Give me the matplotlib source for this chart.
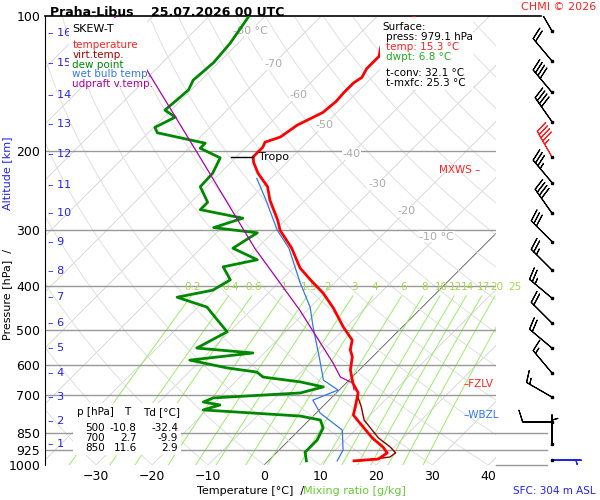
import numpy as np
import matplotlib
matplotlib.use("Agg")
import matplotlib.pyplot as plt
from matplotlib.patches import Rectangle

# profiles (p in hPa, T in deg C)
temp_p = [979, 970, 940, 912, 871, 794, 774, 743, 691, 657, 614, 574, 554, 527, 493, 447, 414, 387, 364,
          329, 300, 285, 257, 240, 224, 212, 206, 196, 191, 186, 175, 164, 155, 148, 141, 137, 131, 123, 117, 109, 100]
temp_t = [15.3, 19.3, 19.8, 18.0, 14.5, 8.6, 7.0, 5.9, 3.9, 1.2, -1.6, -3.6, -5.2, -6.6, -10.5, -15.7, -20.2, -24.8, -28.8,
          -33.8, -39.1, -41.3, -46.3, -49.1, -53.2, -55.9, -57.0, -57.0, -57.5, -55.7, -54.8, -52.5, -52.1, -52.3, -52.3,
          -51.8, -52.5, -52.5, -53.9, -53.4, -53.4]
virt_p = [979, 960, 940, 912, 871, 794, 743, 700]
virt_t = [16.3, 21.0, 21.3, 19.3, 15.6, 9.8, 7.0, 4.2]
dwpt_p = [979, 936, 880, 827, 794, 778, 754, 735, 724, 709, 691, 670, 653, 637, 621, 608, 584, 563, 549, 505, 475,
          445, 423, 408, 387, 362, 349, 329, 304, 296, 282, 270, 260, 240, 224, 207, 197, 192, 182, 177, 168, 162, 152,
          146, 139, 127, 115, 100]
dwpt_t = [6.8, 5.0, 5.0, 3.9, 2.0, -2.3, -20.7, -18.6, -22.1, -21.1, -6.4, -3.4, -8.4, -15.9, -17.9, -23.9, -32.0,
          -22.0, -32.9, -30.4, -34.3, -38.4, -45.5, -40.4, -39.1, -42.7, -37.9, -44.3, -42.7, -51.4, -47.9, -57.0, -57.0,
          -61.1, -61.3, -62.7, -68.0, -68.0, -78.4, -79.8, -78.0, -81.1, -80.7, -80.5, -81.4, -80.9, -81.4, -82.9]
wetb_p = [979, 926, 836, 766, 717, 681, 647, 584, 493, 445, 393, 329, 300, 257, 230]
wetb_t = [12.3, 11.4, 7.7, 0.7, -2.9, -0.2, -4.6, -8.8, -15.9, -20.0, -26.1, -34.3, -39.6, -47.0, -52.5]
parc_p = [680, 657, 637, 593, 452, 329, 209, 100]
parc_t = [2.6, 1.2, -2.1, -5.9, -21.3, -40.4, -65.7, -107.0]

wind_p = [108, 126, 148, 172, 206, 235, 275, 318, 368, 425, 483, 549, 624, 706, 802, 898, 975]
wind_spd = [15, 20, 40, 40, 45, 35, 40, 30, 25, 25, 20, 20, 15, 15, 10, 5, 5]
wind_dir = [330, 320, 320, 325, 330, 320, 325, 315, 315, 310, 315, 310, 320, 300, 270, 0, 90]

alt_km = list(range(1, 17))
alt_p = [898, 798, 706, 624, 549, 483, 422, 370, 318.8, 275, 237.8, 203.3, 174.1, 150, 127.4, 109.1]

mix_w = [0.2, 0.4, 0.6, 1, 1.5, 2, 3, 4, 6, 8, 10, 12, 14, 17, 20, 25]
mix_lbl = ['0.2', '0.4', '0.6', '1', '1.5', '2', '3', '4', '6', '8', '10', '12', '14', '17', '20', '25']
p_lines = [200, 300, 400, 500, 600, 700, 850, 925]
p_ticks = [100, 200, 300, 400, 500, 600, 700, 850, 925, 1000]

SK = 80.2


def sk(t, p):
    return np.asarray(t, float) + SK * np.log10(1000.0 / np.asarray(p, float))


fig = plt.figure(figsize=(6, 5), dpi=100)
ax = fig.add_axes([0.075, 0.07, 0.752, 0.898])
ax.set_yscale('log')
ax.set_ylim(1000, 100)
ax.set_xlim(-39.1, 41.4)

pp = np.logspace(3, 2, 120)
# isotherms
for t in range(-160, 50, 10):
    c = '#555555' if t == 0 else '#d8d8d8'
    lw = 0.6 if t == 0 else 0.7
    ax.plot(sk(np.full_like(pp, t), pp), pp, color=c, lw=lw, zorder=1)
# dry adiabats
for th in range(-30, 200, 10):
    tt = (th + 273.15) * (pp / 1000.0) ** 0.286 - 273.15
    ax.plot(sk(tt, pp), pp, color='#e0e0e0', lw=0.7, zorder=1)
# mixing ratio lines
pm = np.linspace(1000, 420, 40)
for w, lbl in zip(mix_w, mix_lbl):
    e = w * pm / (622.0 + w)
    l = np.log(e / 6.112)
    td = 243.5 * l / (17.67 - l)
    ax.plot(sk(td, pm), pm, color='#99ee66', lw=0.7, zorder=1)
    ax.text(sk(td[-1], 420) + 0.3, 412, lbl, color='#a8d850', fontsize=7.5,
            ha='center', va='bottom', zorder=2)
for p in p_lines:
    ax.axhline(p, color='#999999', lw=1, zorder=1)
for p in [850, 925, 1000]:
    ax.plot([41.4, 50.5], [p, p], color='#999999', lw=1, clip_on=False)
ax.axhline(100, color='black', lw=1.2, xmax=1.1, clip_on=False)

iso_lbl = [(-80, 108), (-70, 128), (-60, 150), (-50, 175), (-40, 203), (-30, 237), (-20, 272), (-10, 310)]
for t, p in iso_lbl:
    s = '%d °C' % t if t in (-80, -10) else '%d' % t
    ax.text(sk(t, p), p, s, color='#aaaaaa', fontsize=8, ha='center', va='center', zorder=2,
            bbox=dict(fc='white', ec='none', pad=0.5))

ax.plot(sk(dwpt_t, dwpt_p), dwpt_p, color='#008800', lw=2, zorder=4)
ax.plot(sk(wetb_t, wetb_p), wetb_p, color='#3377ee', lw=0.9, zorder=4)
ax.plot(sk(parc_t, parc_p), parc_p, color='#aa00aa', lw=0.9, zorder=4)
ax.plot(sk(virt_t, virt_p), virt_p, color='#880000', lw=1, zorder=5)
ax.plot(sk(temp_t, temp_p), temp_p, color='#ff0000', lw=2, zorder=5)

# tropopause
ax.plot([sk(-61, 206), sk(-57, 206)], [206, 206], color='black', lw=1, zorder=6)
ax.text(sk(-56, 206), 206, 'Tropo', fontsize=8, va='center', zorder=6)

ax.set_yticks(p_ticks)
ax.set_yticklabels([str(p) for p in p_ticks], fontsize=9)
ax.minorticks_off()
ax.set_xticks([-30, -20, -10, 0, 10, 20, 30, 40])
ax.tick_params(length=0, labelsize=9)
for s in ['top', 'right', 'bottom']:
    ax.spines[s].set_visible(False)
ax.spines['left'].set_color('black')

for km, p in zip(alt_km, alt_p):
    ax.text(-38.6, p, '\u2013 %d' % km, color='#2222ee', fontsize=8, va='center', ha='left', zorder=3)

# white boxes behind the info texts (inside the axes so texts stay on top)
for (x0, y0, w0, h0) in [(0.115, 0.834, 0.13, 0.13), (0.633, 0.82, 0.155, 0.145), (0.122, 0.09, 0.18, 0.105)]:
    ax.add_patch(Rectangle((x0, y0), w0, h0, transform=fig.transFigure, fc='white', ec='none',
                           zorder=6, clip_on=False))

# legend box
ax.text(-34.2, 104, 'SKEW-T', fontsize=8, va='top', zorder=7)
leg = [('temperature', '#ff2222'), ('virt.temp.', '#aa0000'), ('dew point', '#008800'),
       ('wet bulb temp.', '#3377ee'), ('udpraft v.temp.', '#aa00aa')]
for i, (s, c) in enumerate(leg):
    ax.text(-34.2, 113 * 1.052 ** i, s, color=c, fontsize=7.5, va='top', zorder=7)

# surface info
fig.text(0.637, 0.955, 'Surface:', fontsize=7.5, va='top', zorder=7)
surf = [('press: 979.1 hPa', 'black'), ('temp: 15.3 °C', '#ff2222'), ('dwpt: 6.8 °C', '#22aa22')]
for i, (s, c) in enumerate(surf):
    fig.text(0.643, 0.935 - i * 0.02, s, color=c, fontsize=7.5, va='top', zorder=7)
fig.text(0.643, 0.865, 't-conv: 32.1 °C', fontsize=7.5, va='top', zorder=7)
fig.text(0.643, 0.845, 't-mxfc: 25.3 °C', fontsize=7.5, va='top', zorder=7)

# table
rows = [('p [hPa]', 'T', 'Td [°C]'), ('500', '-10.8', '-32.4'), ('700', '2.7', '-9.9'), ('850', '11.6', '2.9')]
ys = [0.176, 0.144, 0.124, 0.104]
for r, y in zip(rows, ys):
    hd = r[0] == 'p [hPa]'
    fig.text(0.128 if hd else 0.142, y, r[0], fontsize=7.5, va='center', zorder=7)
    fig.text(0.212 if hd else 0.228, y, r[1], fontsize=7.5, va='center', ha='center' if hd else 'right', zorder=7)
    fig.text(0.27 if hd else 0.297, y, r[2], fontsize=7.5, va='center', ha='center' if hd else 'right', zorder=7)

fig.text(0.083, 0.988, 'Praha-Libus    25.07.2026 00 UTC', fontsize=9, weight='bold', va='top')
fig.text(0.993, 0.997, 'CHMI © 2026', color='#ff2222', fontsize=8, va='top', ha='right')
fig.text(0.993, 0.012, 'SFC: 304 m ASL', color='#2222ee', fontsize=7.5, ha='right')
fig.text(0.328, 0.012, 'Temperature [°C]  /', fontsize=8)
fig.text(0.505, 0.012, 'Mixing ratio [g/kg]', fontsize=8, color='#66cc33')
fig.text(0.003, 0.32, 'Pressure [hPa]  /', fontsize=8, rotation=90, va='bottom')
fig.text(0.003, 0.58, 'Altitude [km]', fontsize=8, rotation=90, va='bottom', color='#2222ee')

fig.text(0.80, 0.66, 'MXWS \u2013', color='#ff2222', fontsize=7.5, ha='right', va='center')
fig.text(0.773, 0.232, '\u2013FZLV', color='#ff2222', fontsize=7.5, va='center')
fig.text(0.773, 0.170, '\u2013WBZL', color='#3377ee', fontsize=7.5, va='center')

# wind barbs
bx = fig.add_axes([0.86, 0.07, 0.12, 0.898])
bx.set_yscale('log')
bx.set_ylim(1000, 100)
bx.set_xlim(-1, 1)
bx.axis('off')
wd = np.radians(wind_dir)
spd = np.array(wind_spd, float)
u = -spd * np.sin(wd)
v = -spd * np.cos(wd)
cols = ['#ff2222' if p == 206 else ('#2222ee' if p == 975 else 'black') for p in wind_p]
bx.barbs(np.zeros(len(wind_p)), wind_p, u, v, color=cols, length=6.5, linewidth=0.8, pivot='tip')
bx.plot(np.zeros(len(wind_p)), wind_p, 's', color='black', ms=2)
fig.savefig('out.png')
